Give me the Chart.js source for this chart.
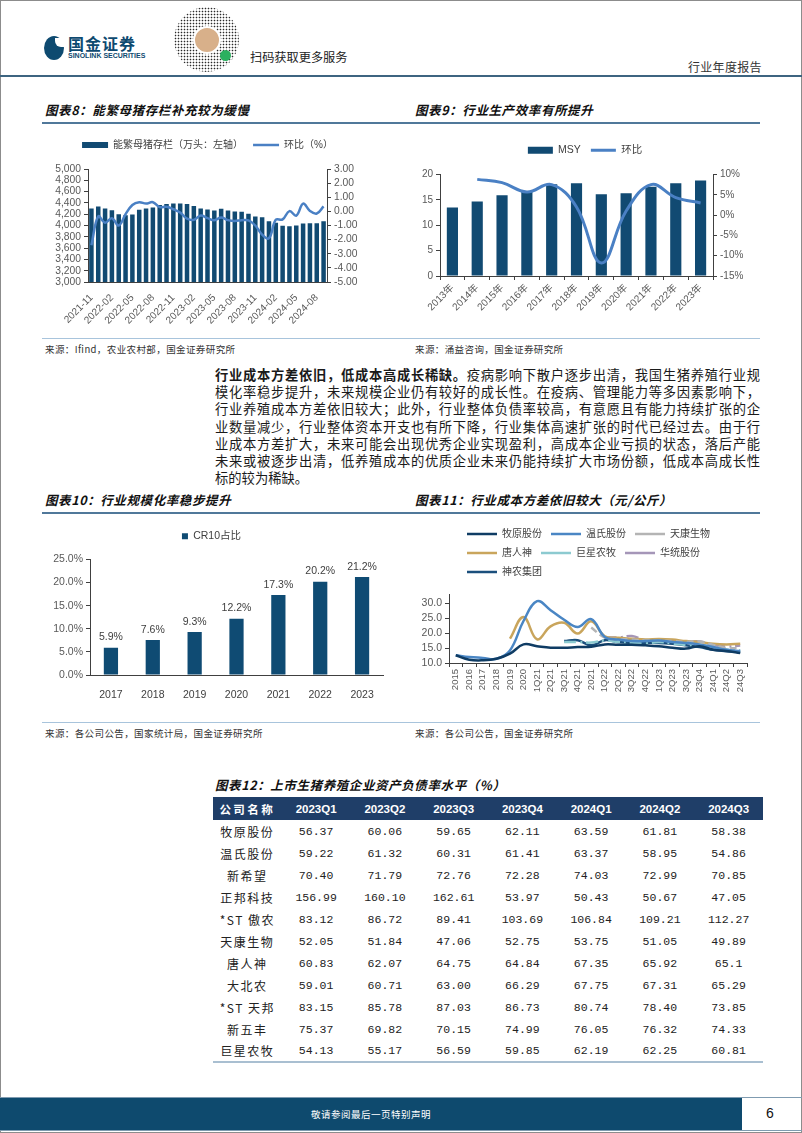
<!DOCTYPE html>
<html lang="zh-CN"><head><meta charset="utf-8"><title>行业年度报告</title>
<script src="https://cdn.jsdelivr.net/npm/chart.js@4.4.1/dist/chart.umd.min.js"></script>
<style>
*{box-sizing:border-box;}
html,body{margin:0;padding:0;background:#fff;}
body{width:802px;height:1133px;position:relative;overflow:hidden;font-family:"Noto Sans CJK SC",sans-serif;color:#1a1a1a;}
.a{position:absolute;white-space:nowrap;}
.frame{position:absolute;left:0;top:0;width:802px;height:1133px;border:1px solid #8c8c8c;pointer-events:none;}
.ln{position:absolute;height:0;}
.ttl{position:absolute;white-space:nowrap;font-size:12.5px;font-weight:700;font-style:italic;letter-spacing:0.6px;line-height:16px;color:#111;}
.src{position:absolute;white-space:nowrap;font-size:9.5px;color:#333;line-height:12px;letter-spacing:0.4px;}
.para{position:absolute;left:215px;top:366px;width:545px;font-size:13.3px;line-height:17.2px;color:#1a1a1a;}
.para div{text-align:justify;text-align-last:justify;height:17.2px;white-space:nowrap;}
.para div.last{text-align-last:left;}
canvas{position:absolute;}
table{position:absolute;left:213px;top:797px;width:550px;border-collapse:collapse;table-layout:fixed;border-bottom:2px solid #a9bfd1;}
th{background:#1f3e68;color:#fff;height:23px;font-size:11.5px;font-weight:700;font-family:"Liberation Sans","Noto Sans CJK SC",sans-serif;padding:0;text-align:center;}
th.n{font-family:"Noto Sans CJK SC",sans-serif;letter-spacing:2.5px;font-size:11.5px;}
td{height:22px;padding:0;text-align:center;font-size:11.5px;font-family:"Liberation Mono","Noto Sans CJK SC",monospace;color:#222;}
td.n{font-family:"Noto Sans CJK SC",sans-serif;font-size:12px;letter-spacing:1.5px;}
</style></head>
<body>
<div class="frame"></div>

<!-- header -->
<div class="a" style="left:44px;top:36px;width:20px;height:24px;border-radius:50%;background:#0e4a70;"></div>
<div class="a" style="left:55px;top:38px;width:9px;height:9px;background:#fff;border-radius:0 0 0 6px;"></div>
<div class="a" style="left:68px;top:34px;font-size:16px;font-weight:700;color:#0e4a70;letter-spacing:1px;line-height:18px;">国金证券</div>
<div class="a" style="left:68px;top:52px;font-family:'Liberation Sans',sans-serif;font-size:7px;font-weight:700;color:#0e4a70;line-height:8px;">SINOLINK SECURITIES</div>
<div class="a" style="left:174px;top:7px;width:65px;height:65px;border-radius:50%;background:radial-gradient(circle,#2a2a2a 0.7px,transparent 1.1px) 0 0/3px 3px;"></div>
<div class="a" style="left:193px;top:26px;width:28px;height:28px;border-radius:50%;background:#d8b08a;border:2px solid #fff;"></div>
<div class="a" style="left:220px;top:50px;width:11px;height:11px;border-radius:50%;background:#2bb05f;"></div>
<div class="a" style="left:250px;top:49px;font-size:12.2px;color:#222;line-height:16px;">扫码获取更多服务</div>
<div class="a" style="left:688px;top:59px;font-size:12px;color:#333;line-height:15px;letter-spacing:0.3px;">行业年度报告</div>
<div class="ln" style="left:0;top:75px;width:802px;border-top:2px solid #3d6480;"></div>

<!-- row 1 titles -->
<div class="ttl" style="left:45px;top:102px;">图表8：能繁母猪存栏补充较为缓慢</div>
<div class="ttl" style="left:415px;top:102px;">图表9：行业生产效率有所提升</div>
<div class="ln" style="left:42px;top:122px;width:718px;border-top:2px solid #50789a;"></div>

<canvas id="c8" width="335" height="200" style="left:40px;top:130px;"></canvas>
<canvas id="c9" width="350" height="200" style="left:410px;top:130px;"></canvas>

<div class="ln" style="left:42px;top:338px;width:718px;border-top:1px solid #a8c4dc;"></div>
<div class="src" style="left:45px;top:343px;">来源：Ifind，农业农村部，国金证券研究所</div>
<div class="src" style="left:415px;top:343px;">来源：涌益咨询，国金证券研究所</div>

<div class="para">
<div><b>行业成本方差依旧，低成本高成长稀缺。</b>疫病影响下散户逐步出清，我国生猪养殖行业规</div>
<div>模化率稳步提升，未来规模企业仍有较好的成长性。在疫病、管理能力等多因素影响下，</div>
<div>行业养殖成本方差依旧较大；此外，行业整体负债率较高，有意愿且有能力持续扩张的企</div>
<div>业数量减少，行业整体资本开支也有所下降，行业集体高速扩张的时代已经过去。由于行</div>
<div>业成本方差扩大，未来可能会出现优秀企业实现盈利，高成本企业亏损的状态，落后产能</div>
<div>未来或被逐步出清，低养殖成本的优质企业未来仍能持续扩大市场份额，低成本高成长性</div>
<div class="last">标的较为稀缺。</div>
</div>

<!-- row 2 titles -->
<div class="ttl" style="left:45px;top:492px;">图表10：行业规模化率稳步提升</div>
<div class="ttl" style="left:415px;top:492px;">图表11：行业成本方差依旧较大（元/公斤）</div>
<div class="ln" style="left:42px;top:512px;width:718px;border-top:2px solid #50789a;"></div>

<canvas id="c10" width="350" height="180" style="left:40px;top:520px;"></canvas>
<canvas id="c11" width="350" height="180" style="left:410px;top:520px;"></canvas>

<div class="ln" style="left:42px;top:722px;width:718px;border-top:1px solid #a8c4dc;"></div>
<div class="src" style="left:45px;top:727px;">来源：各公司公告，国家统计局，国金证券研究所</div>
<div class="src" style="left:415px;top:727px;">来源：各公司公告，国金证券研究所</div>

<div class="ttl" style="left:215px;top:777px;">图表12：上市生猪养殖企业资产负债率水平（%）</div>
<table id="tbl"></table>

<!-- footer -->
<div class="ln" style="left:0;top:1097px;width:802px;border-top:1px solid #7f9bb0;"></div>
<div class="a" style="left:0;top:1098px;width:742px;height:32px;background:#0e4a6e;"></div>
<div class="a" style="left:0;top:1107px;width:742px;text-align:center;font-size:9.5px;color:#fff;line-height:14px;letter-spacing:0.5px;">敬请参阅最后一页特别声明</div>
<div class="a" style="left:766px;top:1104px;font-family:'Liberation Sans',sans-serif;font-size:14px;color:#111;line-height:18px;">6</div>
<div class="ln" style="left:0;top:1130px;width:802px;border-top:1px solid #7f9bb0;"></div>

<script>
// ---------- data ----------
const months8 = ['2021-11','2021-12','2022-01','2022-02','2022-03','2022-04','2022-05','2022-06','2022-07','2022-08','2022-09','2022-10','2022-11','2022-12','2023-01','2023-02','2023-03','2023-04','2023-05','2023-06','2023-07','2023-08','2023-09','2023-10','2023-11','2023-12','2024-01','2024-02','2024-03','2024-04','2024-05','2024-06','2024-07','2024-08','2024-09'];
const sowStock = [4300,4335,4300,4270,4200,4180,4195,4280,4300,4320,4365,4380,4390,4390,4380,4345,4300,4285,4265,4295,4265,4250,4245,4210,4160,4145,4075,4050,3995,3985,3998,4035,4040,4040,4075];
const sowMoM = [-2.4,-0.35,-0.8,-0.48,-1.0,-0.2,0.45,0.65,0.55,0.65,0.3,0.33,0.15,-0.08,-0.52,-0.6,-0.3,-0.48,-0.62,-0.44,-0.62,-0.68,-0.62,-0.64,-1.0,-1.65,-1.9,-0.6,-0.57,0.02,-0.3,0.55,0.03,-0.15,0.35];

const years9 = ['2013年','2014年','2015年','2016年','2017年','2018年','2019年','2020年','2021年','2022年','2023年'];
const msy = [13.5,14.7,15.9,16.7,18.1,18.3,16.1,16.3,17.6,18.3,18.8];
const msyRatio = [null,8.8,8.0,5.7,7.5,2.0,-11.8,1.0,7.5,4.3,3.0];

const years10 = ['2017','2018','2019','2020','2021','2022','2023'];
const cr10 = [5.9,7.6,9.3,12.2,17.3,20.2,21.2];

const periods11 = ['2015','2016','2017','2018','2019','2020','1Q21','2Q21','3Q21','4Q21','2021','1Q22','2Q22','3Q22','4Q22','1Q23','2Q23','3Q23','23Q4','24Q1','24Q2','24Q3'];
const muyuan     = [12.6,11.1,10.9,11.4,13.1,16.2,15.6,15.1,15.1,15.3,15.4,16.2,16.1,16.1,15.9,15.6,15.1,14.8,15.6,14.4,14.0,13.3];
const wens       = [12.6,12.0,11.7,11.4,14.2,24.0,30.6,27.6,24.4,22.0,24.6,18.7,17.8,17.3,17.3,17.5,17.0,16.7,16.2,15.3,14.4,14.0];
const tiankang   = [null,null,null,null,null,null,null,null,null,null,21.8,18.5,18.0,17.8,17.5,17.5,17.3,17.0,17.2,16.0,15.0,15.0];
const tangrenshen= [null,null,null,null,18.1,25.3,17.9,22.2,23.4,19.8,23.9,18.9,18.4,18.1,17.8,18.0,17.8,17.3,17.0,16.4,16.2,16.4];
const juxing     = [null,null,null,null,null,null,null,null,17.0,17.0,16.8,17.5,17.0,16.8,16.5,17.0,16.5,16.0,15.8,15.5,14.5,14.2];
const huatong    = [null,null,null,null,null,null,null,null,null,null,null,18.5,18.5,19.0,17.5,17.5,17.3,17.0,17.2,16.0,15.5,15.8];
const shennong   = [null,null,null,null,null,null,null,null,17.3,17.6,15.9,17.6,17.0,16.7,16.7,16.7,16.4,15.9,15.3,14.4,13.9,13.7];

const tableQuarters = ['2023Q1','2023Q2','2023Q3','2023Q4','2024Q1','2024Q2','2024Q3'];
const tableCompanies = ['牧原股份','温氏股份','新希望','正邦科技','*ST 傲农','天康生物','唐人神','大北农','*ST 天邦','新五丰','巨星农牧'];
const debtRatio = [
  ['56.37','60.06','59.65','62.11','63.59','61.81','58.38'],
  ['59.22','61.32','60.31','61.41','63.37','58.95','54.86'],
  ['70.40','71.79','72.76','72.28','74.03','72.99','70.85'],
  ['156.99','160.10','162.61','53.97','50.43','50.67','47.05'],
  ['83.12','86.72','89.41','103.69','106.84','109.21','112.27'],
  ['52.05','51.84','47.06','52.75','53.75','51.05','49.89'],
  ['60.83','62.07','64.75','64.84','67.35','65.92','65.1'],
  ['59.01','60.71','63.00','66.29','67.75','67.31','65.29'],
  ['83.15','85.78','87.03','86.73','80.74','78.40','73.85'],
  ['75.37','69.82','70.15','74.99','76.05','76.32','74.33'],
  ['54.13','55.17','56.59','59.85','62.19','62.25','60.81']
];

// ---------- table ----------
(function(){
  const t = document.getElementById('tbl');
  let h = '<tr><th class="n">公司名称</th>' + tableQuarters.map(q => '<th>' + q + '</th>').join('') + '</tr>';
  tableCompanies.forEach((c, i) => {
    h += '<tr><td class="n">' + c + '</td>' + debtRatio[i].map(v => '<td>' + v + '</td>').join('') + '</tr>';
  });
  t.innerHTML = h;
})();

// ---------- charts ----------
Chart.defaults.font.family = '"Liberation Sans","Noto Sans CJK SC",sans-serif';
Chart.defaults.color = '#595959';
Chart.defaults.animation = false;

const NAVY = '#114a72';
const BLUE = '#4a80c4';
const AX = '#404040';

const legendFix = {
  id: 'legendFix',
  afterInit(chart, args, o) {
    const lg = chart.legend; if (!lg) return;
    const orig = lg.update.bind(lg);
    lg.update = function(w, h, m) {
      orig(o && o.maxW ? Math.min(w, o.maxW) : w, h, m);
      if (o && o.extraH) this.height += o.extraH;
    };
  },
  afterLayout(chart, args, o) {
    const lg = chart.legend; if (!lg || !o || !o.dx) return;
    lg.left += o.dx;
    lg.right = o.maxW ? lg.left + o.maxW : lg.right + o.dx;
  }
};

const barLabels = {
  id: 'barLabels',
  afterDatasetsDraw(chart, args, o) {
    if (!o || !o.show) return;
    const ctx = chart.ctx, meta = chart.getDatasetMeta(0), data = chart.data.datasets[0].data;
    ctx.save();
    ctx.font = '10.5px "Liberation Sans", sans-serif';
    ctx.fillStyle = '#404040'; ctx.textAlign = 'center'; ctx.textBaseline = 'bottom';
    meta.data.forEach((el, i) => ctx.fillText(data[i].toFixed(1) + '%', el.x, el.y - 5));
    ctx.restore();
  }
};

function yAxis(pos, min, max, step, fmt, width, tickExtra) {
  return {
    type: 'linear', position: pos, min: min, max: max,
    ticks: Object.assign({stepSize: step, callback: fmt, color: '#595959', font: {size: 10}, padding: 3, autoSkip: false}, tickExtra || {}),
    grid: {display: true, drawOnChartArea: false, drawTicks: true, tickLength: 4, color: AX},
    border: {display: true, color: AX, width: 1},
    afterFit(s) { s.width = width; }
  };
}

// Chart 8
new Chart(document.getElementById('c8'), {
  data: {labels: months8, datasets: [
    {type: 'bar', label: '能繁母猪存栏（万头：左轴）', data: sowStock, backgroundColor: NAVY, yAxisID: 'y', order: 2, barPercentage: 0.66, categoryPercentage: 1, pointStyle: 'rect'},
    {type: 'line', label: '环比（%）', data: sowMoM, borderColor: BLUE, backgroundColor: BLUE, borderWidth: 2.5, pointRadius: 0, tension: 0.4, yAxisID: 'y1', order: 1, pointStyle: 'line'}
  ]},
  options: {
    responsive: false, animation: false,
    plugins: {
      legend: {labels: {usePointStyle: true, pointStyleWidth: 26, boxHeight: 6, font: {size: 10}, color: '#404040', padding: 10, sort: (a, b) => a.datasetIndex - b.datasetIndex}},
      tooltip: {enabled: false},
      legendFix: {extraH: 9}
    },
    scales: {
      x: {ticks: {autoSkip: false, minRotation: 45, maxRotation: 45, callback: (v, i) => (i % 3 === 0 ? months8[i] : ''), font: {size: 10}, padding: 2},
          grid: {display: false}, border: {display: true, color: AX}, afterFit(s) { s.height = 48; }},
      y: yAxis('left', 3000, 5000, 200, v => v.toLocaleString('en-US'), 48, {font: {size: 10.3}}),
      y1: yAxis('right', -5, 3, 1, v => v.toFixed(2), 48, {font: {size: 10.3}})
    }
  },
  plugins: [legendFix]
});

// Chart 9
new Chart(document.getElementById('c9'), {
  data: {labels: years9, datasets: [
    {type: 'bar', label: 'MSY', data: msy, backgroundColor: NAVY, yAxisID: 'y', order: 2, barPercentage: 0.45, categoryPercentage: 1, pointStyle: 'rect'},
    {type: 'line', label: '环比', data: msyRatio, borderColor: BLUE, backgroundColor: BLUE, borderWidth: 3, pointRadius: 0, tension: 0.4, yAxisID: 'y1', order: 1, pointStyle: 'line'}
  ]},
  options: {
    responsive: false, animation: false,
    layout: {padding: {top: 5}},
    plugins: {
      legend: {labels: {usePointStyle: true, pointStyleWidth: 25, boxHeight: 7, font: {size: 10.5}, color: '#404040', padding: 10, sort: (a, b) => a.datasetIndex - b.datasetIndex}},
      tooltip: {enabled: false},
      legendFix: {extraH: 9}
    },
    scales: {
      x: {ticks: {autoSkip: false, minRotation: 45, maxRotation: 45, font: {size: 10}, padding: 2},
          grid: {display: true, drawOnChartArea: false, tickLength: 4, color: AX}, border: {display: true, color: AX}, afterFit(s) { s.height = 54; }},
      y: yAxis('left', 0, 20, 5, v => String(v), 30),
      y1: yAxis('right', -15, 10, 5, v => v + '%', 47)
    }
  },
  plugins: [legendFix]
});

// Chart 10
new Chart(document.getElementById('c10'), {
  type: 'bar',
  data: {labels: years10, datasets: [
    {label: 'CR10占比', data: cr10, backgroundColor: '#0f4b73', barPercentage: 0.34, categoryPercentage: 1}
  ]},
  options: {
    responsive: false, animation: false,
    layout: {padding: {top: 1, right: 7}},
    plugins: {
      legend: {labels: {boxWidth: 6, boxHeight: 6, font: {size: 10.5}, color: '#404040', padding: 10}},
      tooltip: {enabled: false},
      legendFix: {extraH: 8},
      barLabels: {show: true}
    },
    scales: {
      x: {grid: {display: false}, border: {display: true, color: AX}, ticks: {font: {size: 10.5}, padding: 6, color: '#404040'}, afterFit(s) { s.height = 25; }},
      y: yAxis('left', 0, 25, 5, v => v.toFixed(1) + '%', 50, {font: {size: 10.5}})
    }
  },
  plugins: [legendFix, barLabels]
});

// Chart 11
function ln(label, data, color, dash) {
  return {label: label, data: data, borderColor: color, backgroundColor: color, borderWidth: 2.5, borderDash: dash || [], pointRadius: 0, tension: 0.4, pointStyle: 'line'};
}
new Chart(document.getElementById('c11'), {
  type: 'line',
  data: {labels: periods11, datasets: [
    ln('牧原股份', muyuan, '#0f3c64'),
    ln('温氏股份', wens, '#4a86c4'),
    ln('天康生物', tiankang, '#b4b4b4', [7, 4]),
    ln('唐人神', tangrenshen, '#c9a55c'),
    ln('巨星农牧', juxing, '#8ccad0', [12, 4, 2, 4]),
    ln('华统股份', huatong, '#a596b8', [12, 4, 2, 4]),
    ln('神农集团', shennong, '#1b4f7c')
  ]},
  options: {
    responsive: false, animation: false,
    layout: {padding: {right: 13}},
    plugins: {
      legend: {align: 'start', labels: {usePointStyle: true, pointStyleWidth: 30, boxHeight: 8, font: {size: 10}, color: '#404040', padding: 9}},
      tooltip: {enabled: false},
      legendFix: {maxW: 300, dx: 48, extraH: 7}
    },
    scales: {
      x: {offset: true, grid: {display: true, offset: true, drawOnChartArea: false, tickLength: 4, color: AX}, border: {display: true, color: AX},
          ticks: {autoSkip: false, minRotation: 90, maxRotation: 90, font: {size: 9.5}, padding: 2}, afterFit(s) { s.height = 37; }},
      y: yAxis('left', 10, 33, 5, v => (v % 5 === 0 ? v.toFixed(1) : ''), 39, {includeBounds: false, font: {size: 10.5}})
    }
  },
  plugins: [legendFix]
});
</script>
</body></html>
